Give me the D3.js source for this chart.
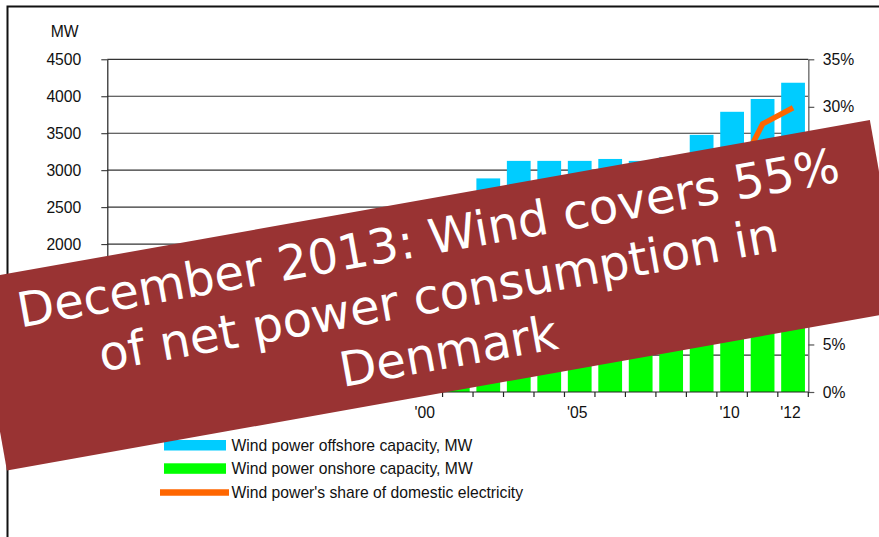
<!DOCTYPE html>
<html>
<head>
<meta charset="utf-8">
<script src="https://cdn.jsdelivr.net/npm/d3@7"></script>
<style>
  html, body { margin: 0; padding: 0; background: #fff; }
  svg { display: block; }
</style>
</head>
<body>
<svg id="chart" width="879" height="537"></svg>
<script>
// Danish wind power 1990-2012: installed capacity (MW) and share of electricity supply (%)
const years = [1990, 1991, 1992, 1993, 1994, 1995, 1996, 1997, 1998, 1999, 2000, 2001,
               2002, 2003, 2004, 2005, 2006, 2007, 2008, 2009, 2010, 2011, 2012];
const onshoreMW = [343, 408, 453, 484, 534, 609, 825, 1106, 1433, 1761, 2340, 2439,
                   2675, 2702, 2702, 2702, 2728, 2702, 2752, 2815, 2922, 3092, 3262];
const offshoreMW = [0, 5, 5, 5, 5, 10, 10, 10, 10, 10, 50, 50,
                    214, 424, 424, 424, 424, 424, 424, 663, 868, 871, 921];
const windSharePct = [1.9, 2.3, 2.8, 3.2, 3.5, 3.8, 3.5, 5.5, 7.1, 8.8, 12.1, 12.2,
                      13.8, 15.8, 18.5, 18.5, 16.8, 19.7, 19.1, 19.4, 21.9, 28.2, 29.9];
const leftTicks = [0, 500, 1000, 1500, 2000, 2500, 3000, 3500, 4000, 4500];
const rightTicks = [0, 5, 10, 15, 20, 25, 30, 35];
const yearLabels = [[2000, "'00"], [2005, "'05"], [2010, "'10"], [2012, "'12"]];
const legendItems = [
  ["bar", "#00CCFF", "Wind power offshore capacity, MW"],
  ["bar", "#00FF00", "Wind power onshore capacity, MW"],
  ["line", "#FF6600", "Wind power's share of domestic electricity"]
];
const bannerLines = ["December 2013: Wind covers 55%", "of net power consumption in", "Denmark"];

const svg = d3.select("#chart");
const font = "'Liberation Sans', Arial, sans-serif";
const labelSize = 15.7;
const plotL = 107.3, plotR = 808.3, plotT = 59.3, plotB = 392;

// outer frame
svg.append("rect")
  .attr("x", 7.5).attr("y", 6.5).attr("width", 1000).attr("height", 1000)
  .attr("fill", "none").attr("stroke", "#111").attr("stroke-width", 2);

const x = d3.scaleBand().domain(years).range([plotL, plotR]).paddingInner(0.22).paddingOuter(0.11);
const xStep = d3.scaleBand().domain(years).range([plotL, plotR]);
const yMW = d3.scaleLinear().domain([0, 4500]).range([plotB, plotT]);
const yPct = d3.scaleLinear().domain([0, 35]).range([plotB, plotT]);

// horizontal gridlines
svg.append("g").selectAll("line")
  .data(leftTicks.filter(v => v > 0))
  .join("line")
  .attr("x1", plotL).attr("x2", plotR)
  .attr("y1", d => yMW(d)).attr("y2", d => yMW(d))
  .attr("stroke", "#333").attr("stroke-width", 1.2);

// stacked bars: onshore at the bottom, offshore on top
const rows = years.map((yr, i) => ({ year: yr, onshore: onshoreMW[i], offshore: offshoreMW[i] }));
const stack = d3.stack().keys(["onshore", "offshore"])(rows);
const barColors = { onshore: "#00FF00", offshore: "#00CCFF" };
svg.append("g").selectAll("g")
  .data(stack)
  .join("g")
  .attr("fill", d => barColors[d.key])
  .selectAll("rect")
  .data(d => d)
  .join("rect")
  .attr("x", d => x(d.data.year))
  .attr("width", x.bandwidth())
  .attr("y", d => yMW(d[1]))
  .attr("height", d => yMW(d[0]) - yMW(d[1]));

// wind share line on the right axis
const line = d3.line()
  .x((d, i) => xStep(years[i]) + xStep.bandwidth() / 2)
  .y(d => yPct(d));
svg.append("path")
  .datum(windSharePct)
  .attr("d", line)
  .attr("fill", "none")
  .attr("stroke", "#FF6600")
  .attr("stroke-width", 5.5)
  .attr("stroke-linejoin", "miter");

// left axis
const leftAxis = svg.append("g")
  .attr("transform", `translate(${plotL},0)`)
  .call(d3.axisLeft(yMW).tickValues(leftTicks).tickSize(6).tickSizeOuter(0).tickPadding(20).tickFormat(d3.format("d")));
leftAxis.select(".domain").attr("stroke", "#222").attr("stroke-width", 1.2);
leftAxis.selectAll(".tick line").attr("stroke", "#222");
leftAxis.selectAll("text").attr("font-family", font).attr("font-size", labelSize).attr("fill", "#111");

// right axis
const rightAxis = svg.append("g")
  .attr("transform", `translate(${plotR},0)`)
  .call(d3.axisRight(yPct).tickValues(rightTicks).tickSize(6).tickSizeOuter(0).tickPadding(8.5).tickFormat(d => d + "%"));
rightAxis.select(".domain").attr("stroke", "#808080").attr("stroke-width", 1.6);
rightAxis.selectAll(".tick line").attr("stroke", "#555").attr("stroke-width", 1.2);
rightAxis.selectAll("text").attr("font-family", font).attr("font-size", labelSize).attr("fill", "#111");

// bottom axis with ticks between categories
svg.append("line")
  .attr("x1", plotL).attr("x2", plotR).attr("y1", plotB).attr("y2", plotB)
  .attr("stroke", "#222").attr("stroke-width", 1.2);
const boundaries = years.map(yr => xStep(yr)).concat([plotR]);
svg.append("g").selectAll("line")
  .data(boundaries)
  .join("line")
  .attr("x1", d => d).attr("x2", d => d)
  .attr("y1", plotB).attr("y2", plotB + 5)
  .attr("stroke", "#222").attr("stroke-width", 1.2);
svg.append("g").selectAll("text")
  .data(yearLabels)
  .join("text")
  .attr("x", d => xStep(d[0]) + xStep.bandwidth() / 2 - 2.5)
  .attr("y", 418.3)
  .attr("text-anchor", "middle")
  .attr("font-family", font).attr("font-size", labelSize).attr("fill", "#111")
  .text(d => d[1]);

// unit label
svg.append("text")
  .attr("x", 78.5).attr("y", 36.7)
  .attr("text-anchor", "end")
  .attr("font-family", font).attr("font-size", labelSize).attr("fill", "#111")
  .text("MW");

// legend
const legend = svg.append("g");
const legendBaselines = [451, 474.3, 498.3];
legendItems.forEach((item, i) => {
  if (item[0] === "bar") {
    legend.append("rect")
      .attr("x", 164).attr("y", legendBaselines[i] - 11).attr("width", 62).attr("height", 10.5)
      .attr("fill", item[1]);
  } else {
    legend.append("line")
      .attr("x1", 160).attr("x2", 229).attr("y1", 492.5).attr("y2", 492.5)
      .attr("stroke", item[1]).attr("stroke-width", 6.5);
  }
  legend.append("text")
    .attr("x", 231.5).attr("y", legendBaselines[i])
    .attr("font-family", font).attr("font-size", labelSize).attr("fill", "#111")
    .text(item[2]);
});

// tilted headline banner
const banner = svg.append("g")
  .attr("transform", "translate(438.4,295.3) rotate(-10.1)");
banner.append("rect")
  .attr("x", -455.5).attr("y", -96.8).attr("width", 911).attr("height", 193.6)
  .attr("fill", "#993333");
banner.selectAll("text")
  .data(bannerLines)
  .join("text")
  .attr("x", 0)
  .attr("y", (d, i) => [-41.5, 16, 73.5][i])
  .attr("text-anchor", "middle")
  .attr("font-family", "'DejaVu Sans', Verdana, sans-serif")
  .attr("font-size", 48)
  .attr("fill", "#fff")
  .text(d => d);
</script>
</body>
</html>
